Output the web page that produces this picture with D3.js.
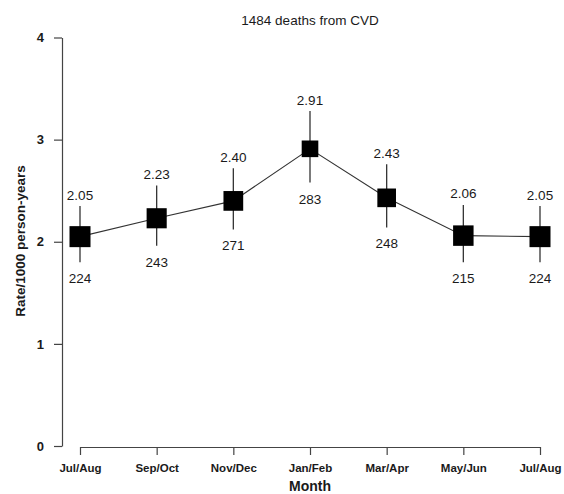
<!DOCTYPE html>
<html>
<head>
<meta charset="utf-8">
<script src="https://cdn.jsdelivr.net/npm/d3@7"></script>
<style>
  body { margin: 0; background: #fff; }
  svg { font-family: "Liberation Sans", Arial, sans-serif; }
  .axis path, .axis line { stroke: #444; stroke-width: 1.2; }
  .axis text { fill: #1a1a1a; font-weight: bold; }
</style>
</head>
<body>
<div id="chart"></div>
<script>
var months = ["Jul/Aug", "Sep/Oct", "Nov/Dec", "Jan/Feb", "Mar/Apr", "May/Jun", "Jul/Aug"];
var rate = [2.05, 2.23, 2.40, 2.91, 2.43, 2.06, 2.05];
var deaths = [224, 243, 271, 283, 248, 215, 224];
var ciHigh = [2.35, 2.55, 2.72, 3.28, 2.76, 2.36, 2.35];
var ciLow = [1.80, 1.96, 2.12, 2.58, 2.14, 1.80, 1.80];
var yTicks = [0, 1, 2, 3, 4];

var svgWidth = 564;
var svgHeight = 494;

var svg = d3.select("#chart")
  .append("svg")
  .attr("width", svgWidth)
  .attr("height", svgHeight);

// x positions by index, since Jul/Aug shows up twice
var xScale = d3.scalePoint()
  .domain(d3.range(months.length))
  .range([80, 540]);

var yScale = d3.scaleLinear()
  .domain([0, 4])
  .range([446, 37.5]);

// marker size follows precision of the estimate (sqrt(deaths)/rate)
var precision = rate.map((r, i) => Math.sqrt(deaths[i]) / r);
var sizeScale = d3.scaleLinear()
  .domain([0, d3.max(precision)])
  .range([0, 21]);

var data = months.map((m, i) => ({
  i: i, rate: rate[i], deaths: deaths[i], hi: ciHigh[i], lo: ciLow[i], size: sizeScale(precision[i])
}));

// axes
svg.append("g")
  .attr("class", "axis")
  .attr("transform", "translate(62,0)")
  .call(d3.axisLeft(yScale).tickValues(yTicks).tickFormat(d3.format("d")).tickSize(8).tickSizeOuter(0).tickPadding(10))
  .selectAll("text")
  .style("font-size", "13px");

svg.append("g")
  .attr("class", "axis")
  .attr("transform", "translate(0,447)")
  .call(d3.axisBottom(xScale).tickFormat(i => months[i]).tickSize(8).tickSizeOuter(0).tickPadding(9))
  .selectAll("text")
  .style("font-size", "11.5px");

// connecting line
var line = d3.line()
  .x(d => xScale(d.i))
  .y(d => yScale(d.rate));

svg.append("path")
  .datum(data)
  .attr("d", line)
  .attr("fill", "none")
  .attr("stroke", "#333")
  .attr("stroke-width", 1.1);

// error bars
svg.selectAll(".ci")
  .data(data)
  .enter()
  .append("line")
  .attr("class", "ci")
  .attr("x1", d => xScale(d.i))
  .attr("x2", d => xScale(d.i))
  .attr("y1", d => yScale(d.hi))
  .attr("y2", d => yScale(d.lo))
  .attr("stroke", "#333")
  .attr("stroke-width", 1.3);

// square markers
svg.selectAll(".pt")
  .data(data)
  .enter()
  .append("rect")
  .attr("class", "pt")
  .attr("x", d => xScale(d.i) - d.size / 2)
  .attr("y", d => yScale(d.rate) - d.size / 2)
  .attr("width", d => d.size)
  .attr("height", d => d.size)
  .attr("fill", "#000");

// rate labels above, death counts below
svg.selectAll(".rateText")
  .data(data)
  .enter()
  .append("text")
  .attr("x", d => xScale(d.i))
  .attr("y", d => yScale(d.hi) - 6.5)
  .attr("text-anchor", "middle")
  .style("font-size", "13.5px")
  .style("fill", "#1a1a1a")
  .text(d => d3.format(".2f")(d.rate));

svg.selectAll(".countText")
  .data(data)
  .enter()
  .append("text")
  .attr("x", d => xScale(d.i))
  .attr("y", d => yScale(d.lo) + 21)
  .attr("text-anchor", "middle")
  .style("font-size", "13.5px")
  .style("fill", "#1a1a1a")
  .text(d => d.deaths);

// title and axis labels
svg.append("text")
  .attr("x", 310)
  .attr("y", 25)
  .attr("text-anchor", "middle")
  .style("font-size", "13.5px")
  .style("fill", "#1a1a1a")
  .text("1484 deaths from CVD");

svg.append("text")
  .attr("x", 310)
  .attr("y", 491)
  .attr("text-anchor", "middle")
  .style("font-size", "14px")
  .style("font-weight", "bold")
  .style("fill", "#1a1a1a")
  .text("Month");

svg.append("text")
  .attr("transform", "translate(25,241) rotate(-90)")
  .attr("text-anchor", "middle")
  .style("font-size", "13.5px")
  .style("font-weight", "bold")
  .style("fill", "#1a1a1a")
  .text("Rate/1000 person-years");
</script>
</body>
</html>
